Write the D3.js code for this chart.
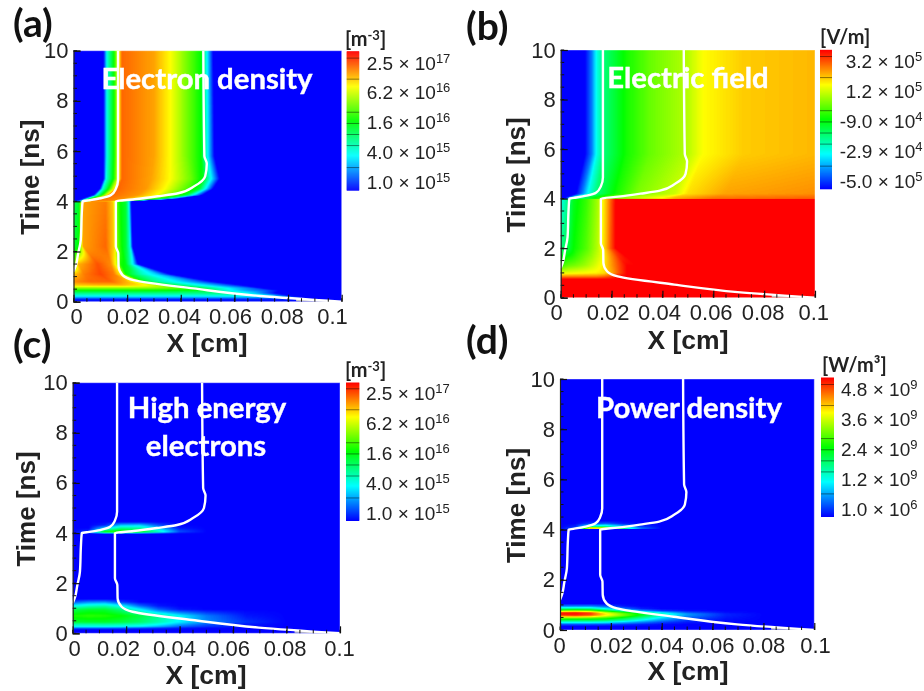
<!DOCTYPE html>
<html>
<head>
<meta charset="utf-8">
<script src="https://cdn.jsdelivr.net/npm/d3@7"></script>
<style>
  body { margin: 0; background: #fff; }
  svg { display: block; filter: blur(0.45px); }
</style>
</head>
<body>
<div id="chart"></div>
<script>
// axes
const xTickValues = [0, 0.02, 0.04, 0.06, 0.08, 0.1];
const yTickValues = [0, 2, 4, 6, 8, 10];
const xMinorValues = d3.range(0, 0.1001, 0.005);
const yMinorValues = d3.range(0, 10.01, 0.5);

// colour bar labels, top to bottom: [mantissa, exponent]
const densityLegend = [["2.5", "17"], ["6.2", "16"], ["1.6", "16"], ["4.0", "15"], ["1.0", "15"]];
const fieldLegend = [["3.2", "5"], ["1.2", "5"], ["-9.0", "4"], ["-2.9", "4"], ["-5.0", "5"]];
const powerLegend = [["4.8", "9"], ["3.6", "9"], ["2.4", "9"], ["1.2", "9"], ["1.0", "6"]];
// dark contour lines in the colour bars, as a fraction of the bar
const legendLevels = [0.167, 0.326, 0.406, 0.486, 0.567, 0.806, 0.958];

// sheath edges, [x in cm, t in ns]
const sheathLeft = [[0.0166, 10], [0.0166, 4.85], [0.0158, 4.5], [0.014, 4.25], [0.0102, 4.12], [0.0052, 4.03], [0.0034, 4], [0.0031, 3.55], [0.0027, 2.45], [0.0017, 1.9], [0.0009, 1.45], [0, 1.2]];
const sheathRight = [[0.0484, 10], [0.0488, 5.8], [0.0497, 5.5], [0.0491, 5], [0.045, 4.6], [0.039, 4.32], [0.0314, 4.2], [0.0227, 4.08], [0.0158, 4], [0.0158, 2.2], [0.0167, 1.93], [0.0168, 1.4], [0.0183, 1.06], [0.0224, 0.86], [0.0447, 0.53], [0.0696, 0.226], [0.1, 0]];
const greyWedge = [[0.083, 0.12], [0.1, 0], [0.095, 0], [0.083, 0.02]];

// (a) electron density: one row of stops per time, value is position on the colour bar
const densityTimes = [0, 0.1, 0.18, 0.25, 0.35, 0.45, 0.55, 0.66, 0.8, 1.1, 1.5, 2.2, 3.98, 4.01, 4.1, 4.25, 4.5, 4.9, 5.8, 10];
const densityX = [
  [0, 0.01, 0.02, 0.03, 0.04, 0.05, 0.06, 0.07, 0.08, 0.09, 0.1],
  [0, 0.01, 0.02, 0.03, 0.04, 0.05, 0.06, 0.07, 0.08, 0.09, 0.1],
  [0, 0.01, 0.02, 0.03, 0.04, 0.05, 0.06, 0.07, 0.08, 0.085, 0.1],
  [0, 0.01, 0.02, 0.03, 0.04, 0.05, 0.065, 0.07, 0.075, 0.08, 0.1],
  [0, 0.01, 0.02, 0.03, 0.04, 0.05, 0.055, 0.06, 0.066, 0.075, 0.1],
  [0, 0.01, 0.02, 0.03, 0.045, 0.053, 0.056, 0.065, 0.072, 0.077, 0.1],
  [0, 0.01, 0.02, 0.03, 0.04, 0.045, 0.05, 0.06, 0.066, 0.07, 0.1],
  [0, 0.01, 0.018, 0.026, 0.032, 0.037, 0.043, 0.05, 0.057, 0.063, 0.1],
  [0, 0.006, 0.014, 0.02, 0.024, 0.027, 0.032, 0.04, 0.046, 0.052, 0.1],
  [0, 0.004, 0.01, 0.015, 0.0175, 0.0195, 0.022, 0.026, 0.031, 0.036, 0.1],
  [0, 0.0015, 0.009, 0.014, 0.016, 0.0175, 0.0195, 0.021, 0.0225, 0.024, 0.1],
  [0, 0.002, 0.0035, 0.012, 0.015, 0.0165, 0.018, 0.0195, 0.021, 0.022, 0.1],
  [0, 0.002, 0.0033, 0.012, 0.0148, 0.016, 0.0175, 0.0195, 0.0205, 0.0215, 0.1],
  [0, 0.001, 0.002, 0.003, 0.0045, 0.013, 0.016, 0.018, 0.02, 0.022, 0.1],
  [0, 0.0035, 0.0045, 0.0065, 0.009, 0.018, 0.024, 0.03, 0.034, 0.038, 0.1],
  [0, 0.0075, 0.0085, 0.0105, 0.0135, 0.024, 0.031, 0.038, 0.042, 0.048, 0.1],
  [0, 0.0098, 0.0108, 0.013, 0.0165, 0.027, 0.034, 0.043, 0.047, 0.052, 0.1],
  [0, 0.0112, 0.0122, 0.0148, 0.018, 0.029, 0.036, 0.044, 0.0485, 0.0545, 0.1],
  [0, 0.0112, 0.0125, 0.015, 0.018, 0.03, 0.036, 0.042, 0.0475, 0.0525, 0.1],
  [0, 0.0112, 0.0125, 0.015, 0.018, 0.03, 0.036, 0.042, 0.0475, 0.052, 0.1]
];
const densityV = [
  [0, 0, 0, 0, 0, 0, 0, 0, 0, 0, 0],
  [0.03, 0.03, 0.03, 0.03, 0.03, 0.03, 0.03, 0.03, 0.03, 0, 0],
  [0.18, 0.18, 0.18, 0.18, 0.18, 0.18, 0.18, 0.18, 0.16, 0, 0],
  [0.28, 0.28, 0.28, 0.28, 0.28, 0.28, 0.28, 0.26, 0.18, 0, 0],
  [0.38, 0.38, 0.38, 0.38, 0.38, 0.38, 0.38, 0.33, 0.22, 0, 0],
  [0.5, 0.5, 0.5, 0.5, 0.48, 0.42, 0.3, 0.15, 0.08, 0, 0],
  [0.65, 0.65, 0.65, 0.64, 0.6, 0.48, 0.38, 0.2, 0.1, 0, 0],
  [0.8, 0.82, 0.82, 0.76, 0.66, 0.45, 0.32, 0.22, 0.1, 0, 0],
  [0.86, 0.9, 0.9, 0.82, 0.7, 0.45, 0.33, 0.22, 0.12, 0, 0],
  [0.8, 0.88, 0.93, 0.88, 0.76, 0.5, 0.42, 0.3, 0.2, 0, 0],
  [0.55, 0.82, 0.92, 0.86, 0.72, 0.52, 0.48, 0.35, 0.2, 0, 0],
  [0.45, 0.5, 0.84, 0.9, 0.8, 0.6, 0.5, 0.45, 0.3, 0, 0],
  [0.42, 0.46, 0.84, 0.88, 0.8, 0.6, 0.5, 0.45, 0.3, 0, 0],
  [0, 0, 0.1, 0.4, 0.88, 0.88, 0.75, 0.55, 0.4, 0, 0],
  [0, 0, 0.25, 0.5, 0.9, 0.86, 0.75, 0.55, 0.35, 0, 0],
  [0, 0, 0.25, 0.5, 0.9, 0.85, 0.75, 0.58, 0.45, 0, 0],
  [0, 0, 0.27, 0.5, 0.9, 0.85, 0.75, 0.56, 0.45, 0, 0],
  [0, 0, 0.28, 0.5, 0.9, 0.84, 0.75, 0.6, 0.47, 0, 0],
  [0, 0, 0.28, 0.5, 0.9, 0.84, 0.75, 0.62, 0.5, 0, 0],
  [0, 0, 0.28, 0.5, 0.9, 0.84, 0.75, 0.62, 0.5, 0, 0]
];

// (b) electric field
const fieldTimes = [0, 0.75, 0.85, 1, 1.3, 2, 3.99, 4.01, 4.05, 4.2, 5.8, 10];
const fieldX = [
  [0, 0.003, 0.006, 0.01, 0.014, 0.017, 0.02, 0.023, 0.026, 0.03, 0.1],
  [0, 0.003, 0.006, 0.01, 0.014, 0.017, 0.02, 0.023, 0.026, 0.03, 0.1],
  [0, 0.003, 0.006, 0.01, 0.014, 0.017, 0.02, 0.023, 0.026, 0.03, 0.1],
  [0, 0.003, 0.006, 0.01, 0.014, 0.017, 0.02, 0.023, 0.026, 0.03, 0.1],
  [0, 0.003, 0.006, 0.01, 0.014, 0.017, 0.02, 0.023, 0.026, 0.03, 0.1],
  [0, 0.0012, 0.003, 0.005, 0.01, 0.0145, 0.0165, 0.018, 0.0195, 0.0215, 0.1],
  [0, 0.0012, 0.003, 0.005, 0.01, 0.0145, 0.0165, 0.018, 0.0195, 0.0215, 0.1],
  [0, 0.002, 0.003, 0.004, 0.008, 0.016, 0.025, 0.04, 0.045, 0.06, 0.1],
  [0, 0.002, 0.003, 0.004, 0.008, 0.016, 0.025, 0.04, 0.045, 0.06, 0.1],
  [0, 0.006, 0.0085, 0.011, 0.014, 0.022, 0.03, 0.045, 0.05, 0.065, 0.1],
  [0, 0.0096, 0.0122, 0.0142, 0.0168, 0.026, 0.035, 0.05, 0.056, 0.072, 0.1],
  [0, 0.0096, 0.0122, 0.0142, 0.0168, 0.026, 0.035, 0.05, 0.056, 0.072, 0.1]
];
const fieldV = [
  [1, 1, 1, 1, 1, 1, 1, 1, 1, 1, 1],
  [1, 1, 1, 1, 1, 1, 1, 1, 1, 1, 1],
  [0.88, 0.88, 0.88, 0.88, 0.88, 0.9, 0.94, 1, 1, 1, 1],
  [0.72, 0.73, 0.74, 0.75, 0.76, 0.78, 0.83, 0.92, 1, 1, 1],
  [0.55, 0.6, 0.62, 0.66, 0.72, 0.77, 0.85, 0.93, 1, 1, 1],
  [0.38, 0.4, 0.44, 0.5, 0.58, 0.68, 0.76, 0.83, 0.91, 1, 1],
  [0.28, 0.3, 0.38, 0.47, 0.55, 0.66, 0.75, 0.82, 0.9, 1, 1],
  [0, 0, 0.12, 0.27, 0.38, 0.55, 0.65, 0.75, 0.82, 0.88, 0.9],
  [0, 0, 0.12, 0.27, 0.38, 0.55, 0.65, 0.75, 0.82, 0.88, 0.9],
  [0, 0, 0.12, 0.27, 0.38, 0.52, 0.62, 0.7, 0.78, 0.84, 0.86],
  [0, 0, 0.12, 0.27, 0.38, 0.52, 0.6, 0.68, 0.75, 0.8, 0.82],
  [0, 0, 0.12, 0.27, 0.38, 0.52, 0.6, 0.68, 0.75, 0.8, 0.82]
];

// (c) high energy electrons and (d) power density share one x grid
const hotX = [0, 0.006, 0.012, 0.018, 0.025, 0.032, 0.04, 0.05, 0.065, 0.08, 0.1];
const highEnergyTimes = [0, 0.15, 0.2, 0.27, 0.35, 0.45, 0.7, 0.95, 1.1, 1.25, 1.37, 3.99, 4.02, 4.06, 4.2, 4.32, 4.45, 10];
const highEnergyV = [
  [0, 0, 0, 0, 0, 0, 0, 0, 0, 0, 0],
  [0, 0, 0, 0, 0, 0, 0, 0, 0, 0, 0],
  [0.08, 0.08, 0.08, 0.07, 0.05, 0.03, 0.01, 0, 0, 0, 0],
  [0.27, 0.27, 0.27, 0.26, 0.24, 0.18, 0.1, 0.05, 0.02, 0, 0],
  [0.32, 0.32, 0.33, 0.32, 0.3, 0.25, 0.16, 0.08, 0.02, 0, 0],
  [0.45, 0.46, 0.46, 0.44, 0.4, 0.33, 0.24, 0.14, 0.05, 0, 0],
  [0.52, 0.54, 0.53, 0.5, 0.44, 0.36, 0.25, 0.12, 0.02, 0, 0],
  [0.42, 0.45, 0.45, 0.38, 0.25, 0.1, 0.02, 0, 0, 0, 0],
  [0.25, 0.3, 0.32, 0.25, 0.1, 0.02, 0, 0, 0, 0, 0],
  [0.08, 0.13, 0.14, 0.06, 0, 0, 0, 0, 0, 0, 0],
  [0, 0, 0, 0, 0, 0, 0, 0, 0, 0, 0],
  [0, 0, 0, 0, 0, 0, 0, 0, 0, 0, 0],
  [0, 0.12, 0.55, 0.62, 0.5, 0.3, 0.05, 0, 0, 0, 0],
  [0, 0.05, 0.48, 0.55, 0.48, 0.32, 0.08, 0, 0, 0, 0],
  [0, 0, 0.2, 0.36, 0.34, 0.2, 0.02, 0, 0, 0, 0],
  [0, 0, 0.03, 0.18, 0.2, 0.08, 0, 0, 0, 0, 0],
  [0, 0, 0, 0, 0, 0, 0, 0, 0, 0, 0],
  [0, 0, 0, 0, 0, 0, 0, 0, 0, 0, 0]
];
const powerTimes = [0, 0.15, 0.22, 0.3, 0.4, 0.48, 0.57, 0.64, 0.7, 0.77, 0.85, 0.95, 1.05, 3.99, 4.01, 4.05, 4.13, 4.25, 4.35, 10];
const powerV = [
  [0, 0, 0, 0, 0, 0, 0, 0, 0, 0, 0],
  [0, 0, 0, 0, 0, 0, 0, 0, 0, 0, 0],
  [0.08, 0.08, 0.08, 0.07, 0.05, 0.03, 0.01, 0, 0, 0, 0],
  [0.25, 0.25, 0.25, 0.23, 0.18, 0.12, 0.06, 0.02, 0, 0, 0],
  [0.45, 0.45, 0.45, 0.43, 0.36, 0.26, 0.15, 0.06, 0.01, 0, 0],
  [0.62, 0.62, 0.6, 0.56, 0.46, 0.35, 0.22, 0.1, 0.02, 0, 0],
  [0.9, 0.92, 0.87, 0.74, 0.6, 0.46, 0.3, 0.14, 0.03, 0, 0],
  [1, 1, 0.96, 0.78, 0.62, 0.48, 0.32, 0.15, 0.03, 0, 0],
  [0.92, 0.94, 0.88, 0.68, 0.52, 0.38, 0.22, 0.08, 0.01, 0, 0],
  [0.62, 0.64, 0.6, 0.46, 0.3, 0.15, 0.05, 0.01, 0, 0, 0],
  [0.35, 0.37, 0.35, 0.25, 0.12, 0.03, 0, 0, 0, 0, 0],
  [0.12, 0.13, 0.13, 0.08, 0.02, 0, 0, 0, 0, 0, 0],
  [0, 0, 0, 0, 0, 0, 0, 0, 0, 0, 0],
  [0, 0, 0, 0, 0, 0, 0, 0, 0, 0, 0],
  [0, 0, 0, 0, 0, 0, 0, 0, 0, 0, 0],
  [0, 0.1, 0.95, 0.85, 0.45, 0.12, 0, 0, 0, 0, 0],
  [0, 0.03, 0.3, 0.33, 0.18, 0.05, 0, 0, 0, 0, 0],
  [0, 0, 0.05, 0.08, 0.02, 0, 0, 0, 0, 0, 0],
  [0, 0, 0, 0, 0, 0, 0, 0, 0, 0, 0],
  [0, 0, 0, 0, 0, 0, 0, 0, 0, 0, 0]
];

const rainbow = d3.scaleLinear()
    .domain([0, 0.25, 0.5, 0.75, 1])
    .range(["#0000ff", "#00ffff", "#00ff00", "#ffff00", "#ff0000"])
    .clamp(true);
const lut = d3.range(256).map(i => d3.rgb(rainbow(i / 255)));

const sansFont = "'Liberation Sans', Arial, sans-serif";
const boldFont = "Lato, 'Open Sans', sans-serif";

// layout of the four panels
const panels = [
  { tag: "(a)", tagX: 13, tagY: 37, left: 73.5, top: 50.7, right: 341.7, bottom: 301.7,
    barX: 346.7, barW: 12.5, barY: 52.3, barH: 138.4, legend: densityLegend, legendX: 366.7,
    unit: ["[m", "-3", "]"], unitX: 345, unitY: 46,
    titles: [["Electron density", 207, 89]], yLabelX: 38.5, xLabelX: 207, xLabelY: 352,
    times: densityTimes, xs: densityX, vs: densityV, xShift: [2.5, 0.5, -1.8, -4.4, -6.3, -9.7] },
  { tag: "(b)", tagX: 466, tagY: 40, left: 560.7, top: 50, right: 815, bottom: 297.7,
    barX: 820, barW: 12, barY: 50.7, barH: 138.6, legend: fieldLegend, legendX: 845.7,
    unit: ["[V/m]", "", ""], unitX: 820, unitY: 44,
    titles: [["Electric field", 688, 87.7]], yLabelX: 525, xLabelX: 688, xLabelY: 349,
    times: fieldTimes, xs: fieldX, vs: fieldV, xShift: [-4.7, -3.9, -3.4, -2.6, -1.5, -1.7] },
  { tag: "(c)", tagX: 13, tagY: 358, left: 72.7, top: 382.7, right: 340, bottom: 633.3,
    barX: 346, barW: 13.3, barY: 383, barH: 138, legend: densityLegend, legendX: 366,
    unit: ["[m", "-3", "]"], unitX: 345, unitY: 377,
    titles: [["High energy", 207, 417.7], ["electrons", 206, 455.7]], yLabelX: 35, xLabelX: 206, xLabelY: 684,
    times: highEnergyTimes, xs: highEnergyTimes.map(() => hotX), vs: highEnergyV, xShift: [1.3, -8.2, -5.6, -5, -1.9, -1] },
  { tag: "(d)", tagX: 466, tagY: 354, left: 560, top: 379, right: 814.3, bottom: 630,
    barX: 821, barW: 13, barY: 378.7, barH: 138.3, legend: powerLegend, legendX: 841,
    unit: ["[W/m\u00b3]", "", ""], unitX: 822, unitY: 372,
    titles: [["Power density", 689, 418]], yLabelX: 525, xLabelX: 688, xLabelY: 680,
    times: powerTimes, xs: powerTimes.map(() => hotX), vs: powerV, xShift: [-1, 0, 0, 0, 0, 0.7] }
];

const svg = d3.select("#chart").append("svg")
    .attr("width", 924).attr("height", 691);

function mix(a, b, f) {
  return a + (b - a) * f;
}

// paints the field into a canvas through the x and y scales, then puts it in the svg
function drawField(g, p, x, y) {
  let w = Math.round(x.range()[1]);
  let h = Math.round(y.range()[0]);
  let canvas = document.createElement("canvas");
  canvas.width = w;
  canvas.height = h;
  let ctx = canvas.getContext("2d");
  let img = ctx.createImageData(w, h);
  let xAt = d3.scaleLinear().domain([0, w]).range(x.domain());
  let tAt = d3.scaleLinear().domain([0, h]).range(y.domain().slice().reverse());
  for (let py = 0; py < h; py++) {
    let t = tAt(py + 0.5);
    let i = Math.min(d3.bisectRight(p.times, t), p.times.length - 1);
    let f = (t - p.times[i - 1]) / (p.times[i] - p.times[i - 1]);
    let stopX = p.xs[i].map((d, k) => mix(p.xs[i - 1][k], d, f));
    let stopV = p.vs[i].map((d, k) => mix(p.vs[i - 1][k], d, f));
    let k = 1;
    for (let px = 0; px < w; px++) {
      let v = xAt(px + 0.5);
      while (k < stopX.length - 1 && v > stopX[k]) k++;
      let u = (v - stopX[k - 1]) / (stopX[k] - stopX[k - 1]);
      let c = lut[Math.round(mix(stopV[k - 1], stopV[k], Math.max(0, Math.min(1, u))) * 255)];
      let o = (py * w + px) * 4;
      img.data[o] = c.r;
      img.data[o + 1] = c.g;
      img.data[o + 2] = c.b;
      img.data[o + 3] = 255;
    }
  }
  ctx.putImageData(img, 0, 0);
  g.append("image")
      .attr("href", canvas.toDataURL())
      .attr("width", x.range()[1]).attr("height", y.range()[0])
      .attr("preserveAspectRatio", "none");
}

function drawPanel(p) {
  let w = p.right - p.left;
  let h = p.bottom - p.top;
  let x = d3.scaleLinear().domain([0, 0.1]).range([0, w]);
  let y = d3.scaleLinear().domain([0, 10]).range([h, 0]);
  let g = svg.append("g").attr("transform", `translate(${p.left},${p.top})`);

  drawField(g, p, x, y);

  let line = d3.line().x(d => x(d[0])).y(d => y(d[1]));
  g.append("path")
      .attr("d", line(greyWedge) + "Z")
      .attr("fill", "#c4c4c4");
  g.append("rect")
      .attr("width", w).attr("height", h)
      .attr("fill", "none")
      .attr("stroke", "#fff").attr("stroke-opacity", 0.4);
  let sheathLine = d3.line().x(d => x(d[0])).y(d => y(d[1])).curve(d3.curveMonotoneY);
  [sheathLeft, sheathRight].forEach(s => {
    g.append("path")
        .attr("d", sheathLine(s))
        .attr("fill", "none")
        .attr("stroke", "#fff")
        .attr("stroke-width", 2.4);
  });

  // minor ticks first, the axis draws the major ones over them
  g.append("g").selectAll("line").data(xMinorValues).join("line")
      .attr("x1", d => x(d)).attr("x2", d => x(d))
      .attr("y1", h).attr("y2", h - 3.5)
      .attr("stroke", "#111");
  g.append("g").selectAll("line").data(yMinorValues).join("line")
      .attr("x1", 0).attr("x2", 3.5)
      .attr("y1", d => y(d)).attr("y2", d => y(d))
      .attr("stroke", "#111");

  let xAxis = g.append("g")
      .attr("transform", `translate(0,${h})`)
      .call(d3.axisBottom(x).tickValues(xTickValues).tickFormat(d => d).tickSize(-7).tickPadding(7));
  xAxis.select(".domain").remove();
  xAxis.selectAll("text").attr("dx", (d, i) => p.xShift[i]);
  let yAxis = g.append("g")
      .call(d3.axisLeft(y).tickValues(yTickValues).tickFormat(d => d).tickSize(-7).tickPadding(5));
  g.selectAll(".tick line").attr("stroke", "#111").attr("stroke-width", 1.2);
  yAxis.select(".domain").attr("stroke", "#222").attr("stroke-width", 1.2);
  g.selectAll(".tick text")
      .attr("fill", "#222")
      .style("font-family", sansFont)
      .style("font-size", "22px");

  // axis titles
  svg.append("text")
      .attr("transform", `translate(${p.yLabelX},${(p.top + p.bottom) / 2 + 1}) rotate(-90)`)
      .attr("text-anchor", "middle")
      .attr("fill", "#222")
      .style("font-family", sansFont).style("font-weight", "bold").style("font-size", "26px")
      .text("Time [ns]");
  svg.append("text")
      .attr("x", p.xLabelX).attr("y", p.xLabelY)
      .attr("text-anchor", "middle")
      .attr("fill", "#222")
      .style("font-family", sansFont).style("font-weight", "bold").style("font-size", "26.5px")
      .text("X [cm]");

  // panel tag and white titles
  svg.append("text")
      .attr("x", p.tagX).attr("y", p.tagY)
      .attr("fill", "#111")
      .style("font-family", boldFont).style("font-weight", "bold").style("font-size", "39px")
      .text(p.tag);
  p.titles.forEach(t => {
    svg.append("text")
        .attr("x", t[1]).attr("y", t[2])
        .attr("text-anchor", "middle")
        .attr("fill", "#fff")
        .attr("stroke", "#fff").attr("stroke-width", 0.4)
        .style("font-family", boldFont).style("font-weight", "bold").style("font-size", "29.3px")
        .text(t[0]);
  });

  drawLegend(p);
}

function drawLegend(p) {
  let barScale = d3.scaleLinear().domain([0, 1]).range([p.barY + p.barH, p.barY]);
  let steps = d3.range(0, 1, 1 / p.barH);
  svg.append("g").selectAll("rect").data(steps).join("rect")
      .attr("x", p.barX).attr("width", p.barW)
      .attr("y", d => barScale(d) - 1.5).attr("height", 1.5)
      .attr("fill", d => rainbow(d));
  svg.append("g").selectAll("line").data(legendLevels).join("line")
      .attr("x1", p.barX).attr("x2", p.barX + p.barW)
      .attr("y1", d => barScale(d)).attr("y2", d => barScale(d))
      .attr("stroke", "#000").attr("stroke-opacity", 0.45);

  let labelY = d3.scalePoint().domain(p.legend.map(d => d[0] + d[1])).range([p.barY + 10.7, p.barY + 130.5]);
  let labels = svg.append("g").selectAll("text").data(p.legend).join("text")
      .attr("x", d => d[0][0] === "-" ? p.legendX - 6 : p.legendX)
      .attr("y", d => labelY(d[0] + d[1]) + 6.5)
      .attr("fill", "#222")
      .style("font-family", sansFont).style("font-size", "19px");
  labels.append("tspan").text(d => d[0] + " \u00d7 10");
  labels.append("tspan")
      .attr("dy", -7)
      .style("font-size", "13px")
      .text(d => d[1]);

  let unit = svg.append("text")
      .attr("x", p.unitX).attr("y", p.unitY)
      .attr("fill", "#222")
      .style("font-family", boldFont).style("font-weight", "bold").style("font-size", "20px");
  unit.append("tspan").text(p.unit[0]);
  if (p.unit[1]) {
    unit.append("tspan").attr("dy", -6).style("font-size", "13px").text(p.unit[1]);
    unit.append("tspan").attr("dy", 6).text(p.unit[2]);
  }
}

panels.forEach(drawPanel);
</script>
</body>
</html>
